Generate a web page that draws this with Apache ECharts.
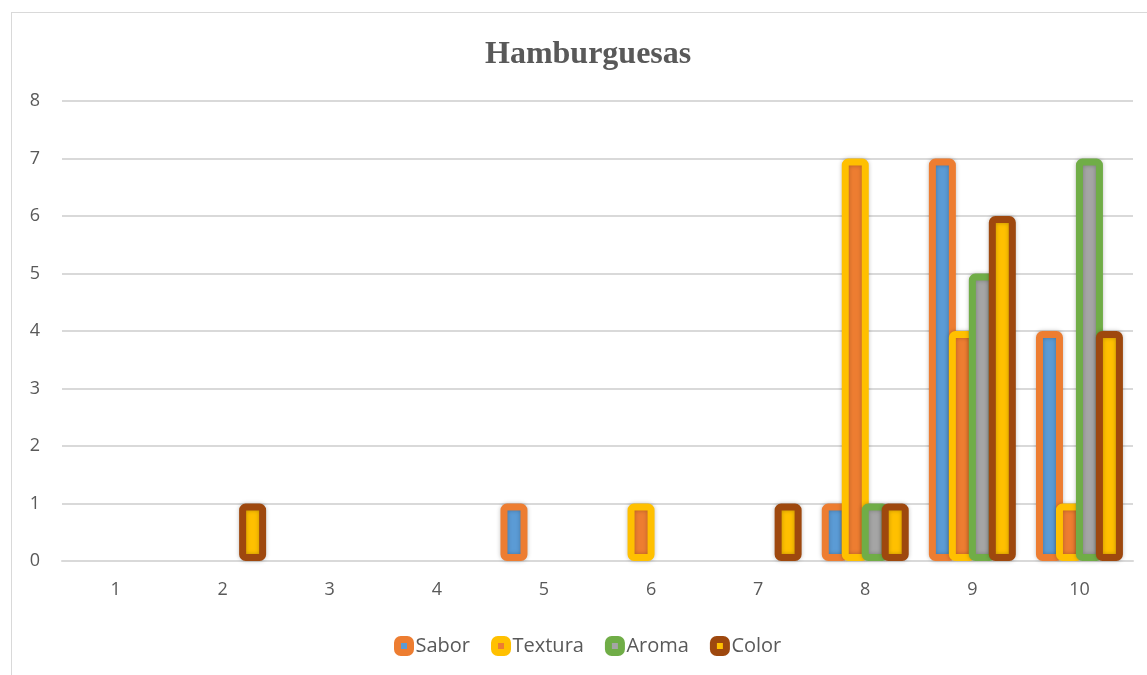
<!DOCTYPE html>
<html>
<head>
<meta charset="utf-8">
<script src="https://cdn.jsdelivr.net/npm/echarts@6/dist/echarts.min.js"></script>
<style>
    html, body { margin: 0; padding: 0; background: #fff; overflow: hidden; }
    #frame { position: absolute; left: 11px; top: 12px; width: 1200px; height: 700px; border: 1px solid #d9d9d9; box-sizing: border-box; }
    #chart { position: absolute; left: 0; top: 0; width: 1147px; height: 675px; }
</style>
</head>
<body>
<div id="frame"></div>
<div id="chart"></div>
<script>
// datos
var categorias = ['1', '2', '3', '4', '5', '6', '7', '8', '9', '10'];
var sabor   = [0, 0, 0, 0, 1, 0, 0, 1, 7, 4];
var textura = [0, 0, 0, 0, 0, 1, 0, 7, 4, 1];
var aroma   = [0, 0, 0, 0, 0, 0, 0, 1, 5, 7];
var color   = [0, 1, 0, 0, 0, 0, 1, 1, 6, 4];
var yTicks  = [0, 1, 2, 3, 4, 5, 6, 7, 8];

// borde / relleno de cada serie
var estilos = {
    Sabor:   { border: '#ED7D31', fill: '#5B9BD5' },
    Textura: { border: '#FFC000', fill: '#ED7D31' },
    Aroma:   { border: '#70AD47', fill: '#A5A5A5' },
    Color:   { border: '#9E480E', fill: '#FFC000' }
};

function serie(name, values) {
    var st = estilos[name];
    return {
        name: name,
        type: 'bar',
        barWidth: 27,
        barGap: '-26%',
        // las barras en cero no se dibujan en el original
        data: values.map(function (v) { return v === 0 ? null : v; }),
        itemStyle: {
            color: st.fill,
            borderColor: st.border,
            borderWidth: 7,
            borderRadius: 3,
            shadowBlur: 4,
            shadowColor: 'rgba(0,0,0,0.25)'
        }
    };
}

var chart = echarts.init(document.getElementById('chart'));

var option = {
    animation: false,
    title: {
        text: 'Hamburguesas',
        left: 480,
        top: 34,
        textStyle: {
            fontFamily: 'Liberation Serif',
            fontWeight: 'bold',
            fontSize: 32,
            color: '#595959'
        }
    },
    grid: {
        left: 62,
        right: 14,
        top: 101,
        bottom: 114
    },
    legend: {
        bottom: 14,
        left: 389,
        itemWidth: 13,
        itemHeight: 13,
        itemGap: 21,
        icon: 'roundRect',
        textStyle: {
            fontFamily: 'Open Sans',
            fontSize: 20,
            color: '#595959',
            padding: [0, 0, 0, 0]
        },
        data: ['Sabor', 'Textura', 'Aroma', 'Color'].map(function (n) {
            return {
                name: n,
                itemStyle: { color: estilos[n].fill, borderColor: estilos[n].border, borderWidth: 7 }
            };
        })
    },
    xAxis: {
        type: 'category',
        data: categorias,
        axisTick: { show: false },
        axisLine: { lineStyle: { color: '#d9d9d9', width: 2 } },
        axisLabel: {
            color: '#595959',
            fontFamily: 'Open Sans',
            fontSize: 18,
            margin: 20
        }
    },
    yAxis: {
        type: 'value',
        min: yTicks[0],
        max: yTicks[yTicks.length - 1],
        interval: 1,
        axisLine: { show: false },
        axisTick: { show: false },
        splitLine: { lineStyle: { color: '#d9d9d9', width: 2 } },
        axisLabel: {
            color: '#595959',
            fontFamily: 'Open Sans',
            fontSize: 18,
            margin: 22
        }
    },
    series: [
        serie('Sabor', sabor),
        serie('Textura', textura),
        serie('Aroma', aroma),
        serie('Color', color)
    ]
};
chart.setOption(option);
</script>
</body>
</html>
